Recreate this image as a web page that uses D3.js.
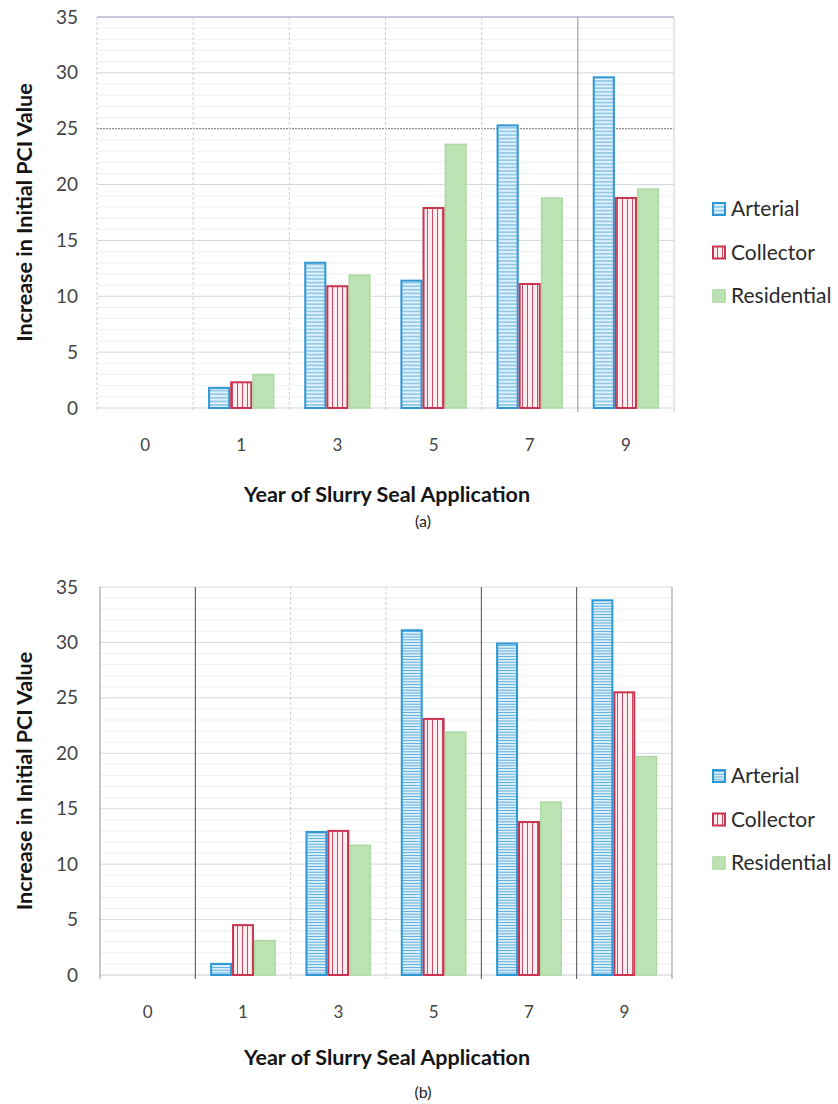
<!DOCTYPE html>
<html>
<head>
<meta charset="utf-8">
<script src="https://cdn.jsdelivr.net/npm/d3@7"></script>
<style>
  html, body { margin: 0; padding: 0; background: #ffffff; }
  svg { display: block; }
  text { font-family: Lato, "Open Sans", "Liberation Sans", sans-serif; }
</style>
</head>
<body>
<svg id="chart" width="838" height="1104"></svg>
<script>
// Years of slurry seal application (categories)
const years = ["0", "1", "3", "5", "7", "9"];
const seriesNames = ["Arterial", "Collector", "Residential"];
const yTicks = [0, 5, 10, 15, 20, 25, 30, 35];

// Panel (a): increase in initial PCI value
const arterialA    = [0, 1.8, 13.0, 11.4, 25.3, 29.6];
const collectorA   = [0, 2.3, 10.9, 17.9, 11.1, 18.8];
const residentialA = [0, 3.0, 11.9, 23.6, 18.8, 19.6];

// Panel (b): increase in initial PCI value
const arterialB    = [0, 1.0, 12.9, 31.1, 29.9, 33.8];
const collectorB   = [0, 4.5, 13.0, 23.1, 13.8, 25.5];
const residentialB = [0, 3.1, 11.7, 21.9, 15.6, 19.7];

const svg = d3.select("#chart");
const defs = svg.append("defs");

// Hatch fills: horizontal lines for Arterial, vertical lines for Collector
function hatch(id, bg, line, step, vertical) {
  const p = defs.append("pattern")
    .attr("id", id)
    .attr("patternUnits", "userSpaceOnUse")
    .attr("width", vertical ? step : 8)
    .attr("height", vertical ? 8 : step);
  p.append("rect").attr("width", vertical ? step : 8).attr("height", vertical ? 8 : step).attr("fill", bg);
  if (vertical) {
    p.append("line").attr("x1", step / 2).attr("x2", step / 2).attr("y1", 0).attr("y2", 8)
      .attr("stroke", line).attr("stroke-width", 1);
  } else {
    p.append("line").attr("x1", 0).attr("x2", 8).attr("y1", step / 2).attr("y2", step / 2)
      .attr("stroke", line).attr("stroke-width", 1);
  }
}
hatch("hatchArtA", "#e3f1fa", "#55ade0", 3.6, false);
hatch("hatchArtB", "#e3f1fa", "#55ade0", 2.8, false);
hatch("hatchCol", "#fdeef1", "#cf4a64", 5, true);

const styles = {
  Arterial:    { stroke: "#2e98d6", width: 2 },
  Collector:   { stroke: "#c9354f", width: 2 },
  Residential: { stroke: "#acd9a2", width: 1.5, fill: "#bde3b4" }
};

function drawPanel(cfg) {
  const g = svg.append("g");
  const y = d3.scaleLinear().domain([0, 35]).range([cfg.bottom, cfg.top]);
  const x0 = d3.scaleBand().domain(years).range([cfg.left, cfg.right]).padding(0);
  const bw = x0.bandwidth();
  const x1 = d3.scaleBand().domain(seriesNames)
    .range([bw * 0.155, bw * 0.845]).padding(0);

  // minor horizontal grid (every 1 unit)
  g.append("g").selectAll("line")
    .data(d3.range(1, 35).filter(v => v % 5 !== 0))
    .join("line")
    .attr("x1", cfg.left).attr("x2", cfg.right)
    .attr("y1", d => y(d)).attr("y2", d => y(d))
    .attr("stroke", "#edf1f4").attr("stroke-width", 1);

  // major horizontal grid
  g.append("g").selectAll("line")
    .data(yTicks)
    .join("line")
    .attr("x1", cfg.left).attr("x2", cfg.right)
    .attr("y1", d => y(d)).attr("y2", d => y(d))
    .attr("stroke", d => cfg.hColor(d))
    .attr("stroke-width", 1)
    .attr("stroke-dasharray", d => cfg.hDash(d));

  // vertical category separators
  const seps = years.map(c => x0(c)).concat([cfg.right]);
  g.append("g").selectAll("line")
    .data(seps)
    .join("line")
    .attr("x1", d => d).attr("x2", d => d)
    .attr("y1", cfg.top).attr("y2", cfg.bottom + 4)
    .attr("stroke", (d, i) => cfg.vColor(i))
    .attr("stroke-width", 1)
    .attr("stroke-dasharray", (d, i) => cfg.vDash(i));

  // bars
  const series = [
    { name: "Arterial", values: cfg.data[0], fill: `url(#${cfg.artPattern})` },
    { name: "Collector", values: cfg.data[1], fill: "url(#hatchCol)" },
    { name: "Residential", values: cfg.data[2], fill: styles.Residential.fill }
  ];
  series.forEach(s => {
    const st = styles[s.name];
    g.append("g").selectAll("rect")
      .data(years.map((yr, i) => ({ yr, v: s.values[i] })).filter(d => d.v > 0))
      .join("rect")
      .attr("x", d => x0(d.yr) + x1(s.name) + st.width / 2)
      .attr("y", d => y(d.v))
      .attr("width", x1.bandwidth() - st.width)
      .attr("height", d => y(0) - y(d.v))
      .attr("fill", s.fill)
      .attr("stroke", st.stroke)
      .attr("stroke-width", st.width);
  });

  // y axis tick labels
  const yAxis = d3.axisLeft(y).tickValues(yTicks).tickSize(0).tickPadding(0);
  const ya = g.append("g").attr("transform", "translate(78,0)").call(yAxis);
  ya.select(".domain").remove();
  ya.selectAll("text")
    .attr("font-size", 19).attr("fill", "#444")
    .style("font-family", "Lato, 'Open Sans', sans-serif");

  // x axis category labels
  const xAxis = d3.axisBottom(x0).tickSize(0).tickPadding(0);
  const xa = g.append("g").attr("transform", `translate(0,${cfg.bottom + 31})`).call(xAxis);
  xa.select(".domain").remove();
  xa.selectAll("text")
    .attr("font-size", 17).attr("fill", "#444")
    .style("font-family", "Lato, 'Open Sans', sans-serif");

  // axis titles
  g.append("text")
    .attr("transform", `translate(24,${(cfg.top + cfg.bottom) / 2}) rotate(-90)`)
    .attr("text-anchor", "middle")
    .attr("dominant-baseline", "central")
    .attr("font-size", 21.5).attr("font-weight", "bold").attr("fill", "#151515")
    .text("Increase in Initial PCI Value");
  g.append("text")
    .attr("x", 387).attr("y", cfg.xTitleY)
    .attr("text-anchor", "middle")
    .attr("font-size", 21.5).attr("font-weight", "bold").attr("fill", "#151515")
    .text("Year of Slurry Seal Application");
  g.append("text")
    .attr("x", 423).attr("y", cfg.captionY)
    .attr("text-anchor", "middle")
    .attr("font-size", 16).attr("fill", "#222")
    .text(cfg.caption);

  // legend
  const lg = g.append("g");
  series.forEach((s, i) => {
    const st = styles[s.name];
    const ly = cfg.legendY + i * cfg.legendStep;
    lg.append("rect")
      .attr("x", 713).attr("y", ly - 6)
      .attr("width", 12).attr("height", 12)
      .attr("fill", s.fill)
      .attr("stroke", st.stroke)
      .attr("stroke-width", st.width);
    lg.append("text")
      .attr("x", 731).attr("y", ly)
      .attr("dy", "0.35em")
      .attr("font-size", 21).attr("fill", "#2a2a2a")
      .text(s.name);
  });
}

drawPanel({
  top: 17, bottom: 408, left: 97, right: 674,
  data: [arterialA, collectorA, residentialA],
  artPattern: "hatchArtA",
  hColor: d => d === 25 ? "#6f7378" : d === 35 ? "#8a96b8" : "#cfd9e0",
  hDash: d => d === 25 ? "2,1" : null,
  vColor: i => i === 5 ? "#8a8f96" : "#c9d0d6",
  vDash: i => i === 5 || i === 6 ? null : "3,2",
  xTitleY: 502, captionY: 527, caption: "(a)",
  legendY: 209, legendStep: 43.5
});

drawPanel({
  top: 587, bottom: 975, left: 100, right: 672,
  data: [arterialB, collectorB, residentialB],
  artPattern: "hatchArtB",
  hColor: d => d === 0 ? "#c4ccd4" : "#d3dce3",
  hDash: d => null,
  vColor: i => (i === 1 || i === 4 || i === 5) ? "#4a4f56" : (i === 0 || i === 6) ? "#8d939a" : "#c9d0d6",
  vDash: i => (i === 2 || i === 3) ? "3,2" : null,
  xTitleY: 1065, captionY: 1098, caption: "(b)",
  legendY: 776, legendStep: 43.5
});
</script>
</body>
</html>
